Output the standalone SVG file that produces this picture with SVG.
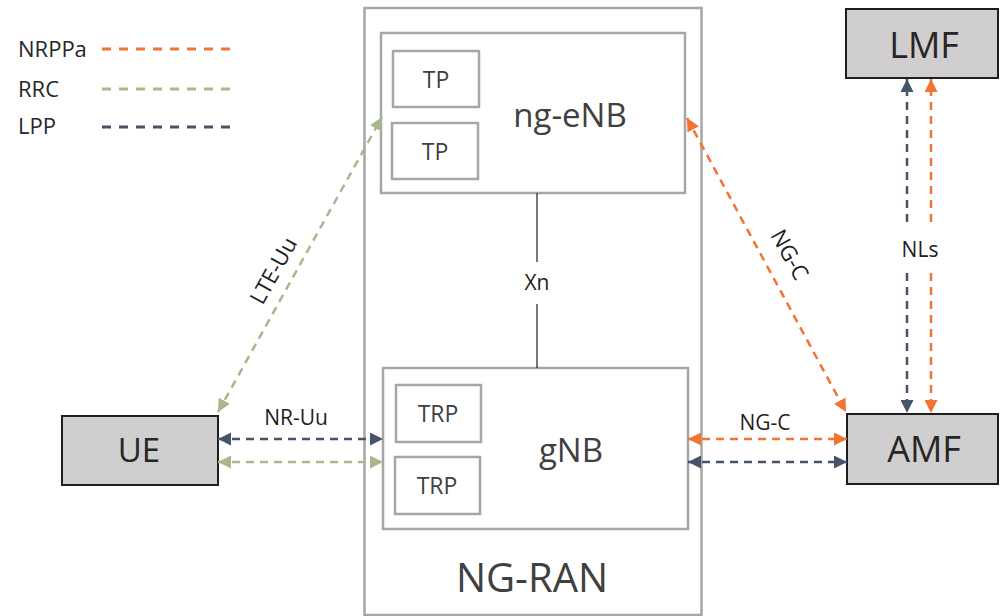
<svg xmlns="http://www.w3.org/2000/svg" width="1000" height="616" viewBox="0 0 1000 616">
<style>
text{font-family:"Open Sans","Liberation Sans",sans-serif;}
.box{fill:#fff;stroke:#A6A6A6;stroke-width:2.5;}
.ent{fill:#D0CECE;stroke:#1e1e1e;stroke-width:2;}
.big{font-size:36px;fill:#262626;text-anchor:middle;}
.mid{font-size:33px;fill:#404040;text-anchor:middle;}
.sm{font-size:23px;fill:#404040;text-anchor:middle;}
.lbl{font-size:21px;fill:#1e1e1e;text-anchor:middle;}
.leg{font-size:22px;fill:#262626;}
.c{fill:none;stroke-width:2.5;stroke-dasharray:8 6;}
.o{stroke:#F47232;}
.g{stroke:#A9B78E;}
.b{stroke:#44546A;}
.lg{fill:none;stroke-width:3;stroke-dasharray:9 8;}
</style>
<defs>
<marker id="ao" viewBox="0 0 12 12" refX="12" refY="6" markerWidth="13" markerHeight="13" markerUnits="userSpaceOnUse" orient="auto-start-reverse"><path d="M0,0 L12,6 L0,12 z" fill="#F47232"/></marker>
<marker id="ag" viewBox="0 0 12 12" refX="12" refY="6" markerWidth="13" markerHeight="13" markerUnits="userSpaceOnUse" orient="auto-start-reverse"><path d="M0,0 L12,6 L0,12 z" fill="#A9B78E"/></marker>
<marker id="ab" viewBox="0 0 12 12" refX="12" refY="6" markerWidth="13" markerHeight="13" markerUnits="userSpaceOnUse" orient="auto-start-reverse"><path d="M0,0 L12,6 L0,12 z" fill="#44546A"/></marker>
</defs>

<g id="legend">
<text class="leg" x="18" y="57">NRPPa</text>
<line class="lg o" x1="102" y1="49" x2="233" y2="49"/>
<text class="leg" x="18" y="97">RRC</text>
<line class="lg g" x1="102" y1="89" x2="233" y2="89"/>
<text class="leg" x="18" y="134">LPP</text>
<line class="lg b" x1="102" y1="127" x2="233" y2="127"/>
</g>

<g id="ng-ran">
<rect class="box" x="364.5" y="8" width="337" height="607"/>
<text class="mid" x="532" y="592" style="font-size:40px">NG-RAN</text>
</g>

<g id="ng-enb">
<rect class="box" x="381" y="33" width="304" height="160"/>
<text class="mid" x="570" y="127">ng-eNB</text>
</g>
<g id="tp1">
<rect class="box" x="393" y="51" width="86" height="56"/>
<text class="sm" x="436" y="88">TP</text>
</g>
<g id="tp2">
<rect class="box" x="392" y="123" width="86" height="56"/>
<text class="sm" x="435" y="160">TP</text>
</g>

<g id="gnb">
<rect class="box" x="383" y="368" width="305" height="161"/>
<text class="mid" x="571" y="462">gNB</text>
</g>
<g id="trp1">
<rect class="box" x="396" y="385" width="85" height="57"/>
<text class="sm" x="438" y="422">TRP</text>
</g>
<g id="trp2">
<rect class="box" x="395" y="457" width="85" height="57"/>
<text class="sm" x="437" y="494">TRP</text>
</g>

<g id="ue">
<rect class="ent" x="62" y="416" width="156" height="69"/>
<text class="big" x="139" y="462" style="font-size:33px">UE</text>
</g>
<g id="amf">
<rect class="ent" x="847" y="414" width="151" height="70"/>
<text class="big" x="924" y="462">AMF</text>
</g>
<g id="lmf">
<rect class="ent" x="846" y="9" width="152" height="69"/>
<text class="big" x="924" y="58">LMF</text>
</g>

<g id="connectors">
<line x1="537" y1="193" x2="537" y2="262" stroke="#1e1e1e" stroke-width="1.2"/>
<line x1="537" y1="304" x2="537" y2="368" stroke="#1e1e1e" stroke-width="1.2"/>
<text class="lbl" x="537" y="290">Xn</text>

<line class="c g" x1="218" y1="412" x2="382" y2="117" marker-start="url(#ag)" marker-end="url(#ag)"/>
<text class="lbl" transform="translate(274,271) rotate(-61)" x="0" y="7" style="font-size:22px">LTE-Uu</text>

<line class="c b" x1="218" y1="439" x2="383" y2="439" marker-start="url(#ab)" marker-end="url(#ab)"/>
<line class="c g" x1="218" y1="462" x2="383" y2="462" marker-start="url(#ag)" marker-end="url(#ag)"/>
<text class="lbl" x="296" y="425">NR-Uu</text>

<line class="c o" x1="687" y1="118" x2="846" y2="412" marker-start="url(#ao)" marker-end="url(#ao)"/>
<text class="lbl" transform="translate(789,255) rotate(61)" x="0" y="7" style="font-size:22px">NG-C</text>

<line class="c o" x1="688" y1="439" x2="847" y2="439" marker-start="url(#ao)" marker-end="url(#ao)"/>
<line class="c b" x1="688" y1="462" x2="847" y2="462" marker-start="url(#ab)" marker-end="url(#ab)"/>
<text class="lbl" x="765" y="430">NG-C</text>

<line class="c b" x1="907" y1="222" x2="907" y2="79" marker-end="url(#ab)"/>
<line class="c b" x1="907" y1="273" x2="907" y2="413" marker-end="url(#ab)"/>
<line class="c o" x1="931" y1="222" x2="931" y2="79" marker-end="url(#ao)"/>
<line class="c o" x1="931" y1="273" x2="931" y2="413" marker-end="url(#ao)"/>
<text class="lbl" x="920" y="257">NLs</text>
</g>
</svg>
